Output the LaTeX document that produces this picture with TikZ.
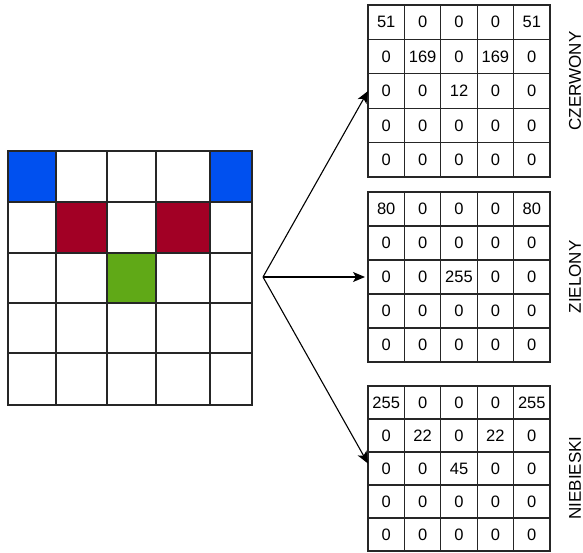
\documentclass[tikz,border=0pt]{standalone}
\usepackage{fontspec}
\setmainfont{Liberation Sans}
\usetikzlibrary{arrows.meta}
\definecolor{cblue}{HTML}{0050EF}
\definecolor{cred}{HTML}{A20025}
\definecolor{cgreen}{HTML}{60A917}
\definecolor{gridc}{HTML}{262626}
\expandafter\def\csname cf-00\endcsname{cblue}
\expandafter\def\csname cf-04\endcsname{cblue}
\expandafter\def\csname cf-11\endcsname{cred}
\expandafter\def\csname cf-13\endcsname{cred}
\expandafter\def\csname cf-22\endcsname{cgreen}
\newcommand\valgrid[4]{%
  \pgfmathsetmacro\rh{(#3-#2)/5}%
  \foreach \row [count=\r] in {#4}{%
    \foreach \v [count=\c] in \row {%
      \node[rcell, minimum height=\rh] (#1-\r-\c) at ({368+(\c-0.5)*36.4},{#2+(\r-0.5)*\rh}) {\v};
    }%
  }%
}
\begin{document}
\begin{tikzpicture}[x=1pt,y=-1pt,
  lcell/.style={draw=gridc, line width=1.2pt, inner sep=0pt, outer sep=0pt},
  rcell/.style={draw=gridc, line width=1.2pt, inner sep=0pt, outer sep=0pt, minimum width=36.4pt, font=\fontsize{16.5}{16.5}\selectfont},
  lbl/.style={rotate=90, font=\fontsize{17}{17}\selectfont, inner sep=0pt},
  arr/.style={draw=black, line width=1.1pt, -{Stealth[length=12pt,width=10pt,inset=3pt]}}]
\useasboundingbox (0,0) rectangle (583,552);
\def\LX{{8,56,107,156,210,252}}
\def\LY{{151,202,253,303,353,405}}
\foreach \r in {0,...,4}{%
  \foreach \c in {0,...,4}{%
    \pgfmathsetmacro\xa{\LX[\c]}%
    \pgfmathsetmacro\xb{\LX[\c+1]}%
    \pgfmathsetmacro\ya{\LY[\r]}%
    \pgfmathsetmacro\yb{\LY[\r+1]}%
    \edef\cf{\ifcsname cf-\r\c\endcsname\csname cf-\r\c\endcsname\else white\fi}%
    \node[lcell, fill=\cf, minimum width=\xb-\xa, minimum height=\yb-\ya] (L\r\c) at ({(\xa+\xb)/2},{(\ya+\yb)/2}) {};
  }%
}
\valgrid{A}{5}{177}{{51,0,0,0,51},{0,169,0,169,0},{0,0,12,0,0},{0,0,0,0,0},{0,0,0,0,0}}
\valgrid{B}{192}{362}{{80,0,0,0,80},{0,0,0,0,0},{0,0,255,0,0},{0,0,0,0,0},{0,0,0,0,0}}
\valgrid{C}{386}{551}{{255,0,0,0,255},{0,22,0,22,0},{0,0,45,0,0},{0,0,0,0,0},{0,0,0,0,0}}
\node[lbl] (labA) at (575,81) {CZERWONY};
\node[lbl] (labB) at (575,277) {ZIELONY};
\node[lbl] (labC) at (575,478) {NIEBIESKI};
\coordinate (src) at (263,277);
\draw[arr] (src) -- (A-3-1.west);
\draw[arr] (src) -- ([xshift=-3pt]B-3-1.west);
\draw[arr] (src) -- ([yshift=5pt]C-3-1.west);
\end{tikzpicture}
\end{document}
